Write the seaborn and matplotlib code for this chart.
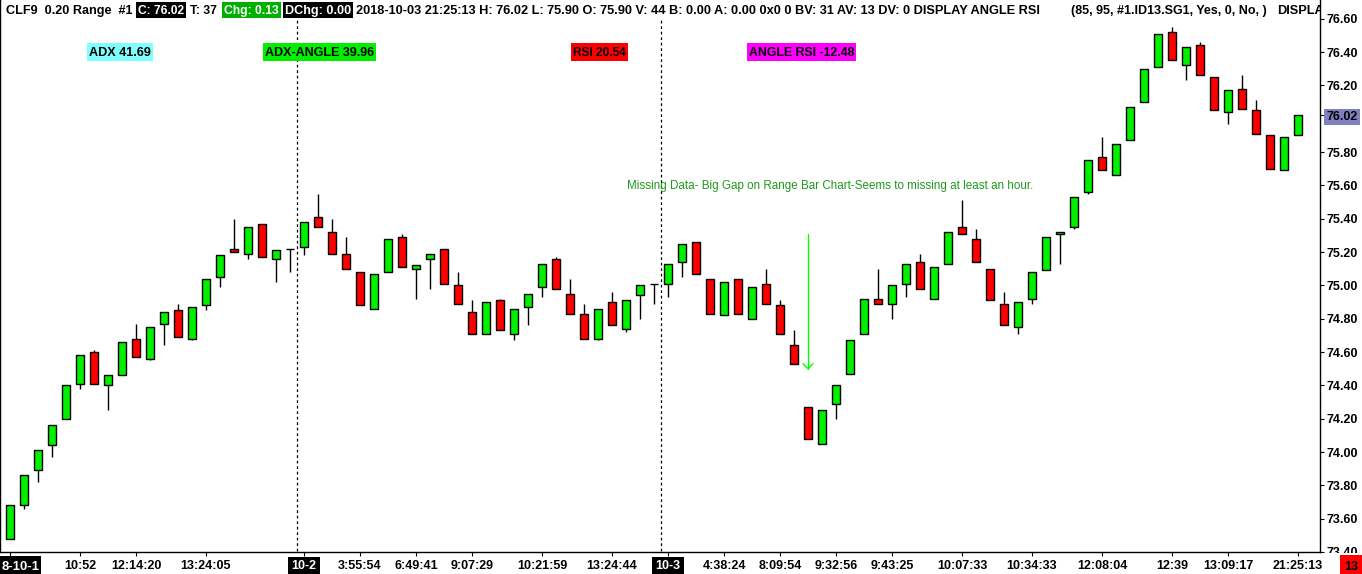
import numpy as np
import pandas as pd
import seaborn as sns
import matplotlib
matplotlib.use("Agg")
import matplotlib.pyplot as plt
from matplotlib.patches import Rectangle
from matplotlib import transforms as mtrans

# ---------------- data ----------------
opens = [73.48,73.68,73.89,74.04,74.20,74.41,74.60,74.40,74.46,74.68,
         74.56,74.77,74.85,74.68,74.88,75.05,75.22,75.19,75.37,75.16,
         75.22,75.23,75.41,75.32,75.19,75.08,74.86,75.08,75.29,75.10,
         75.16,75.22,75.00,74.84,74.71,74.91,74.71,74.87,74.99,75.16,
         74.95,74.83,74.68,74.90,74.74,74.94,75.01,75.01,75.14,75.26,
         75.04,74.82,75.04,74.80,75.01,74.88,74.64,74.27,74.05,74.29,
         74.47,74.71,74.92,74.89,75.01,75.14,74.92,75.13,75.35,75.28,
         75.10,74.89,74.75,74.92,75.09,75.31,75.35,75.56,75.77,75.66,
         75.87,76.10,76.31,76.52,76.32,76.44,76.25,76.04,76.18,76.05,
         75.90,75.69,75.90]
closes = [73.68,73.86,74.01,74.16,74.40,74.58,74.41,74.46,74.66,74.57,
          74.75,74.84,74.69,74.87,75.04,75.18,75.20,75.35,75.17,75.21,
          75.22,75.38,75.35,75.19,75.10,74.88,75.07,75.28,75.11,75.12,
          75.19,75.01,74.89,74.71,74.90,74.73,74.86,74.95,75.13,74.98,
          74.83,74.68,74.86,74.76,74.91,75.00,75.01,75.13,75.25,75.07,
          74.83,75.02,74.83,74.99,74.89,74.71,74.53,74.08,74.25,74.40,
          74.67,74.92,74.89,75.00,75.13,74.98,75.11,75.32,75.31,75.14,
          74.91,74.76,74.90,75.08,75.29,75.32,75.53,75.75,75.69,75.85,
          76.07,76.30,76.51,76.35,76.43,76.26,76.05,76.17,76.06,75.91,
          75.70,75.89,76.02]
highs = [73.68,73.86,74.01,74.16,74.40,74.58,74.61,74.46,74.66,74.77,
         74.75,74.84,74.89,74.87,75.04,75.18,75.40,75.35,75.37,75.21,
         75.22,75.38,75.55,75.40,75.29,75.08,75.07,75.28,75.31,75.12,
         75.19,75.22,75.08,74.91,74.90,74.92,74.86,74.95,75.13,75.17,
         75.04,74.89,74.86,74.96,74.91,75.00,75.01,75.13,75.25,75.26,
         75.04,75.02,75.04,74.99,75.10,74.91,74.73,74.27,74.25,74.40,
         74.67,74.92,75.10,75.00,75.13,75.19,75.11,75.32,75.51,75.34,
         75.10,74.96,74.90,75.08,75.29,75.32,75.53,75.75,75.89,75.85,
         76.07,76.30,76.51,76.55,76.43,76.46,76.25,76.17,76.26,76.11,
         75.90,75.89,76.02]
lows = [73.48,73.66,73.82,73.97,74.20,74.38,74.41,74.25,74.46,74.57,
        74.55,74.64,74.69,74.67,74.85,74.99,75.20,75.16,75.17,75.02,
        75.08,75.18,75.35,75.19,75.10,74.88,74.86,75.08,75.11,74.92,
        74.98,75.01,74.89,74.71,74.71,74.73,74.67,74.76,74.93,74.98,
        74.83,74.68,74.67,74.76,74.72,74.80,74.89,74.93,75.05,75.07,
        74.83,74.82,74.83,74.80,74.89,74.71,74.53,74.08,74.05,74.20,
        74.47,74.71,74.89,74.80,74.93,74.98,74.92,75.13,75.31,75.14,
        74.91,74.76,74.71,74.89,75.09,75.13,75.34,75.55,75.69,75.66,
        75.87,76.10,76.31,76.35,76.23,76.26,76.05,75.97,76.06,75.91,
        75.70,75.69,75.90]

tick_positions = [0, 5, 9, 14, 21, 25, 29, 33, 38, 43, 47, 51, 55, 59, 63,
                  68, 73, 78, 83, 87, 92]
tick_labels = ["8-10-1", "10:52", "12:14:20", "13:24:05", "10-2", "3:55:54",
               "6:49:41", "9:07:29", "10:21:59", "13:24:44", "10-3", "4:38:24",
               "8:09:54", "9:32:56", "9:43:25", "10:07:33", "10:34:33",
               "12:08:04", "12:39", "13:09:17", "21:25:13"]
date_labels = ["8-10-1", "10-2", "10-3"]
session_breaks = [20.5, 46.5]
price_ticks = [73.40, 73.60, 73.80, 74.00, 74.20, 74.40, 74.60, 74.80, 75.00,
               75.20, 75.40, 75.60, 75.80, 76.02, 76.20, 76.40, 76.60]
last_price = 76.02

header_title = "CLF9  0.20 Range  #1"
header_c = "C: 76.02"
header_t = "T: 37"
header_chg = "Chg: 0.13"
header_dchg = "DChg: 0.00"
header_main = ("2018-10-03 21:25:13 H: 76.02 L: 75.90 O: 75.90 V: 44 B: 0.00 "
               "A: 0.00 0x0 0 BV: 31 AV: 13 DV: 0 DISPLAY ANGLE RSI")
header_args = "(85, 95, #1.ID13.SG1, Yes, 0, No, )"
header_tail = "DISPLAY"
indicator_names = ["ADX 41.69", "ADX-ANGLE 39.96", "RSI 20.54", "ANGLE RSI -12.48"]
note_text = "Missing Data- Big Gap on Range Bar Chart-Seems to missing at least an hour."
bars_left_label = "13"

# ---------------- style ----------------
W, H = 1362, 574
sns.set_theme(style="white")
plt.rcParams["font.family"] = ["Liberation Sans", "DejaVu Sans"]
plt.rcParams["axes.linewidth"] = 1.0

UP = "#00F000"
DOWN = "#FF0000"

fig = plt.figure(figsize=(W / 100, H / 100), dpi=100, facecolor="white")
ax = fig.add_axes([0, 22 / H, 1320 / W, 552 / H])
ax.set_facecolor("white")

df = pd.DataFrame({"open": opens, "high": highs, "low": lows, "close": closes})
df["x"] = np.arange(len(df))
df["bottom"] = df[["open", "close"]].min(axis=1)
df["height"] = (df["close"] - df["open"]).abs()
df["color"] = np.where(df["close"] >= df["open"], UP, DOWN)

ax.vlines(df["x"], df["low"], df["high"], color="black", lw=1.0, zorder=2)
ax.bar(df["x"], df["height"], bottom=df["bottom"], width=0.6,
       color=df["color"], edgecolor="black", linewidth=1.0, zorder=3)

ax.set_xlim(-0.714, 93.571)
ax.set_ylim(73.408, 76.713)

# session separators
for xb in session_breaks:
    ax.vlines(xb, 73.408, 76.59, colors="black", linestyles=(0, (2.2, 2.2)),
              lw=0.9, zorder=1)

# spines
for s in ["left", "right", "bottom"]:
    ax.spines[s].set_visible(True)
    ax.spines[s].set_color("black")
    ax.spines[s].set_linewidth(1.0)
ax.spines["top"].set_visible(False)

# y axis on the right
ax.yaxis.tick_right()
ax.set_yticks(price_ticks)
ax.set_yticklabels([f"{p:.2f}" for p in price_ticks])
ax.tick_params(axis="y", which="both", direction="out", length=3.2, width=0.8,
               pad=1.2, labelsize=9, colors="black", right=True, left=False)
for lab in ax.get_yticklabels():
    lab.set_fontweight("bold")
    if lab.get_text() == f"{last_price:.2f}":
        lab.set_bbox(dict(boxstyle="square,pad=0.18", facecolor="#8080C0",
                          edgecolor="none"))

# x axis
ax.set_xticks(tick_positions)
ax.set_xticklabels(["" if t == "8-10-1" else t for t in tick_labels])
ax.tick_params(axis="x", direction="out", length=3.2, width=0.8, pad=2.6,
               labelsize=9, colors="black", bottom=True)
for lab in ax.get_xticklabels():
    lab.set_fontweight("bold")
    if lab.get_text() in date_labels:
        lab.set_color("white")
        lab.set_bbox(dict(boxstyle="square,pad=0.25", facecolor="black",
                          edgecolor="none"))
ax.grid(False)
ax.set_xlabel("")
ax.set_ylabel("")

# arrow for the gap note (data coords)
ax.plot([57, 57], [75.306, 74.50], color="#00FF00", lw=1.0, zorder=4)
ax.plot([56.64, 57, 57.36], [74.53, 74.50, 74.53], color="#00FF00", lw=1.0,
        zorder=4)

# ---------------- overlays in pixel coordinates ----------------
pix = mtrans.Affine2D().scale(1 / W, -1 / H).translate(0, 1) + fig.transFigure
renderer = fig.canvas.get_renderer()


def box(x0, y0, x1, y1, color, z=5):
    fig.add_artist(Rectangle((x0, y0), x1 - x0, y1 - y0, transform=pix,
                             facecolor=color, edgecolor="none", zorder=z))


def put(s, x, ybase, color="black", size=9, weight="bold", ha="left",
        width=None, z=6, clip=False):
    if clip:
        t = ax.text(x, ybase, s, transform=pix, color=color, fontsize=size,
                    fontweight=weight, ha=ha, va="baseline", zorder=z,
                    clip_on=True)
    else:
        t = fig.text(x, ybase, s, transform=pix, color=color, fontsize=size,
                     fontweight=weight, ha=ha, va="baseline", zorder=z)
    if width is not None:
        w = t.get_window_extent(renderer).width
        if w > 0:
            t.set_fontsize(size * width / w)
    return t


HB = 14.4  # header baseline
put(header_title, 6, HB, width=127)
box(136, 2, 186, 18, "black")
put(header_c, 161, HB, color="white", ha="center", width=46)
put(header_t, 190, HB, width=27)
box(222, 2, 281, 18, "#00B000")
put(header_chg, 251.5, HB, color="white", ha="center", width=55)
box(283, 2, 353, 18, "black")
put(header_dchg, 318, HB, color="white", ha="center", width=66)
put(header_main, 356, HB, width=691)
put(header_args, 1071, HB, width=196)
put(header_tail, 1277, HB, size=9.2, clip=True)

# indicator labels
ind_boxes = [(87, 153, "#80FFFF"), (263, 376, "#00F000"),
             (571, 628, "#FF0000"), (747, 856, "#FF00FF")]
for name, (x0, x1, col) in zip(indicator_names, ind_boxes):
    box(x0, 43, x1, 61, col)
    put(name, (x0 + x1) / 2, 56.5, ha="center", width=(x1 - x0) - 4)

# note text
put(note_text, 627, 189.5, color="#1E9A1E", weight="normal", size=8.5,
    width=405)

# first date label at left edge
box(0, 556, 41, 574, "black")
put("8-10-1", 20.5, 569.8, color="white", ha="center", width=38)

# cover below the axis at the right, then bar countdown box
box(1323, 552.6, 1362, 574, "white", z=5)
box(1340, 555, 1362, 574, "#FF0000", z=6)
put(bars_left_label, 1351, 569.8, ha="center", z=7)

fig.savefig("out.png", dpi=100, facecolor="white")
